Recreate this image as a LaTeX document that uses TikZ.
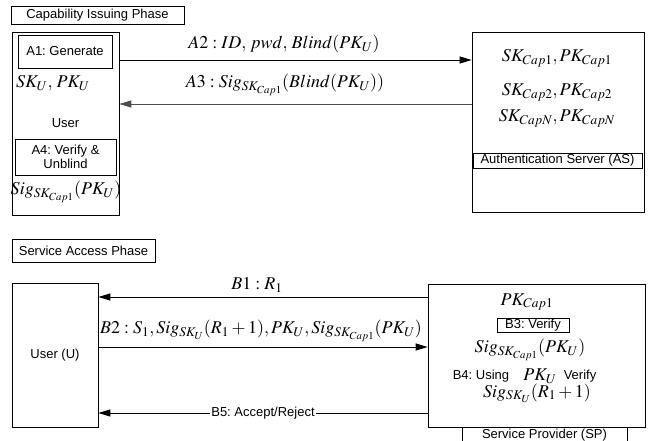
\documentclass[tikz,border=0pt]{standalone}
\usepackage{mathptmx}
\usepackage[no-math]{fontspec}
\setmainfont{Liberation Sans}
\usepackage{tikz}
\usetikzlibrary{arrows.meta,positioning}
\frenchspacing

\tikzset{
  box/.style={draw, line width=0.7pt, inner sep=0pt},
  lbl/.style={font=\fontsize{13}{14.5}\selectfont},
  eq/.style={font=\fontsize{18}{20}\selectfont},
  msg/.style={line width=0.8pt, -{Triangle[length=12pt,width=7pt]}}
}

\begin{document}
\begin{tikzpicture}[x=1pt, y=-1pt]
\useasboundingbox (0,0) rectangle (648,441);
   \begin{scope}[every node/.style={lbl}]
% capability issuing phase
\node[box, minimum width=173pt, minimum height=18pt] (cap) at (97.5,15) {Capability Issuing Phase};
\node[box, minimum width=107pt, minimum height=183pt] (user) at (65.5,123.5) {User};
\node[box, minimum width=94pt, minimum height=33pt] (gen) at (65,51.5) {A1: Generate};
\node[eq] (keys) at (53,83) {$SK_U,\,PK_U$};
\node[box, minimum width=101pt, minimum height=36pt, align=center] (unb) at (65.5,157) {A4: Verify \&\\Unblind};
\node[eq] (sig) at (66,192) {$Sig_{SK_{Cap1}}(PK_U)$};

\node[box, minimum width=172pt, minimum height=180pt] (as) at (558,122) {};
\node[eq] (cap1) at (557,58) {$SK_{Cap1},PK_{Cap1}$};
\node[eq] (cap2) at (557,92) {$SK_{Cap2},PK_{Cap2}$};
\node[eq] (capn) at (557,118) {$SK_{CapN},PK_{CapN}$};
\node[box, minimum width=169pt, minimum height=15pt] (asname) at (557.5,160.5) {Authentication Server (AS)};

\node[eq] (a2) at (284,44) {$A2:ID,\,pwd,\,Blind(PK_U)$};
\node[eq] (a3) at (285,85) {$A3:Sig_{SK_{Cap1}}(Blind(PK_U))$};
\draw[msg] (user.east |- 0,60) -- (as.west |- 0,60);
\draw[msg, draw=black!70] (as.west |- 0,104) -- (user.east |- 0,104);

% service access phase
\node[box, minimum width=143pt, minimum height=23pt] (sap) at (83.5,250.5) {Service Access Phase};
\node[box, minimum width=86pt, minimum height=144pt] (uu) at (55,355) {User (U)};
\node[box, minimum width=217pt, minimum height=143pt] (sp) at (536.5,355.5) {};
\node[box, minimum width=165pt, minimum height=16pt] (spname) at (544.5,435) {Service Provider (SP)};

\node[eq] (pkc) at (527,302) {$PK_{Cap1}$};
\node[box, minimum width=72pt, minimum height=14pt] (b3) at (533,325) {B3: Verify};
\node[eq] (sigc) at (530,350) {$Sig_{SK_{Cap1}}(PK_U)$};
\node (b4) at (481,376) {B4: Using};
\node[eq] (pku) at (540,376) {$PK_U$};
\node (ver) at (580,376) {Verify};
\node[eq] (sigr) at (537,393) {$Sig_{SK_U}(R_1+1)$};

\node[eq] (b1) at (257,285) {$B1:R_1$};
\node[eq] (b2) at (261,331) {$B2:S_1,Sig_{SK_U}(R_1+1),PK_U,Sig_{SK_{Cap1}}(PK_U)$};
\draw[msg] (sp.west |- 0,297) -- (uu.east |- 0,297);
\draw[msg] (uu.east |- 0,347) -- (sp.west |- 0,347);
\draw[msg] (sp.west |- 0,413) -- node[fill=white, inner sep=1pt] (b5) {B5: Accept/Reject} (uu.east |- 0,413);
  \end{scope}
\end{tikzpicture}
\end{document}
